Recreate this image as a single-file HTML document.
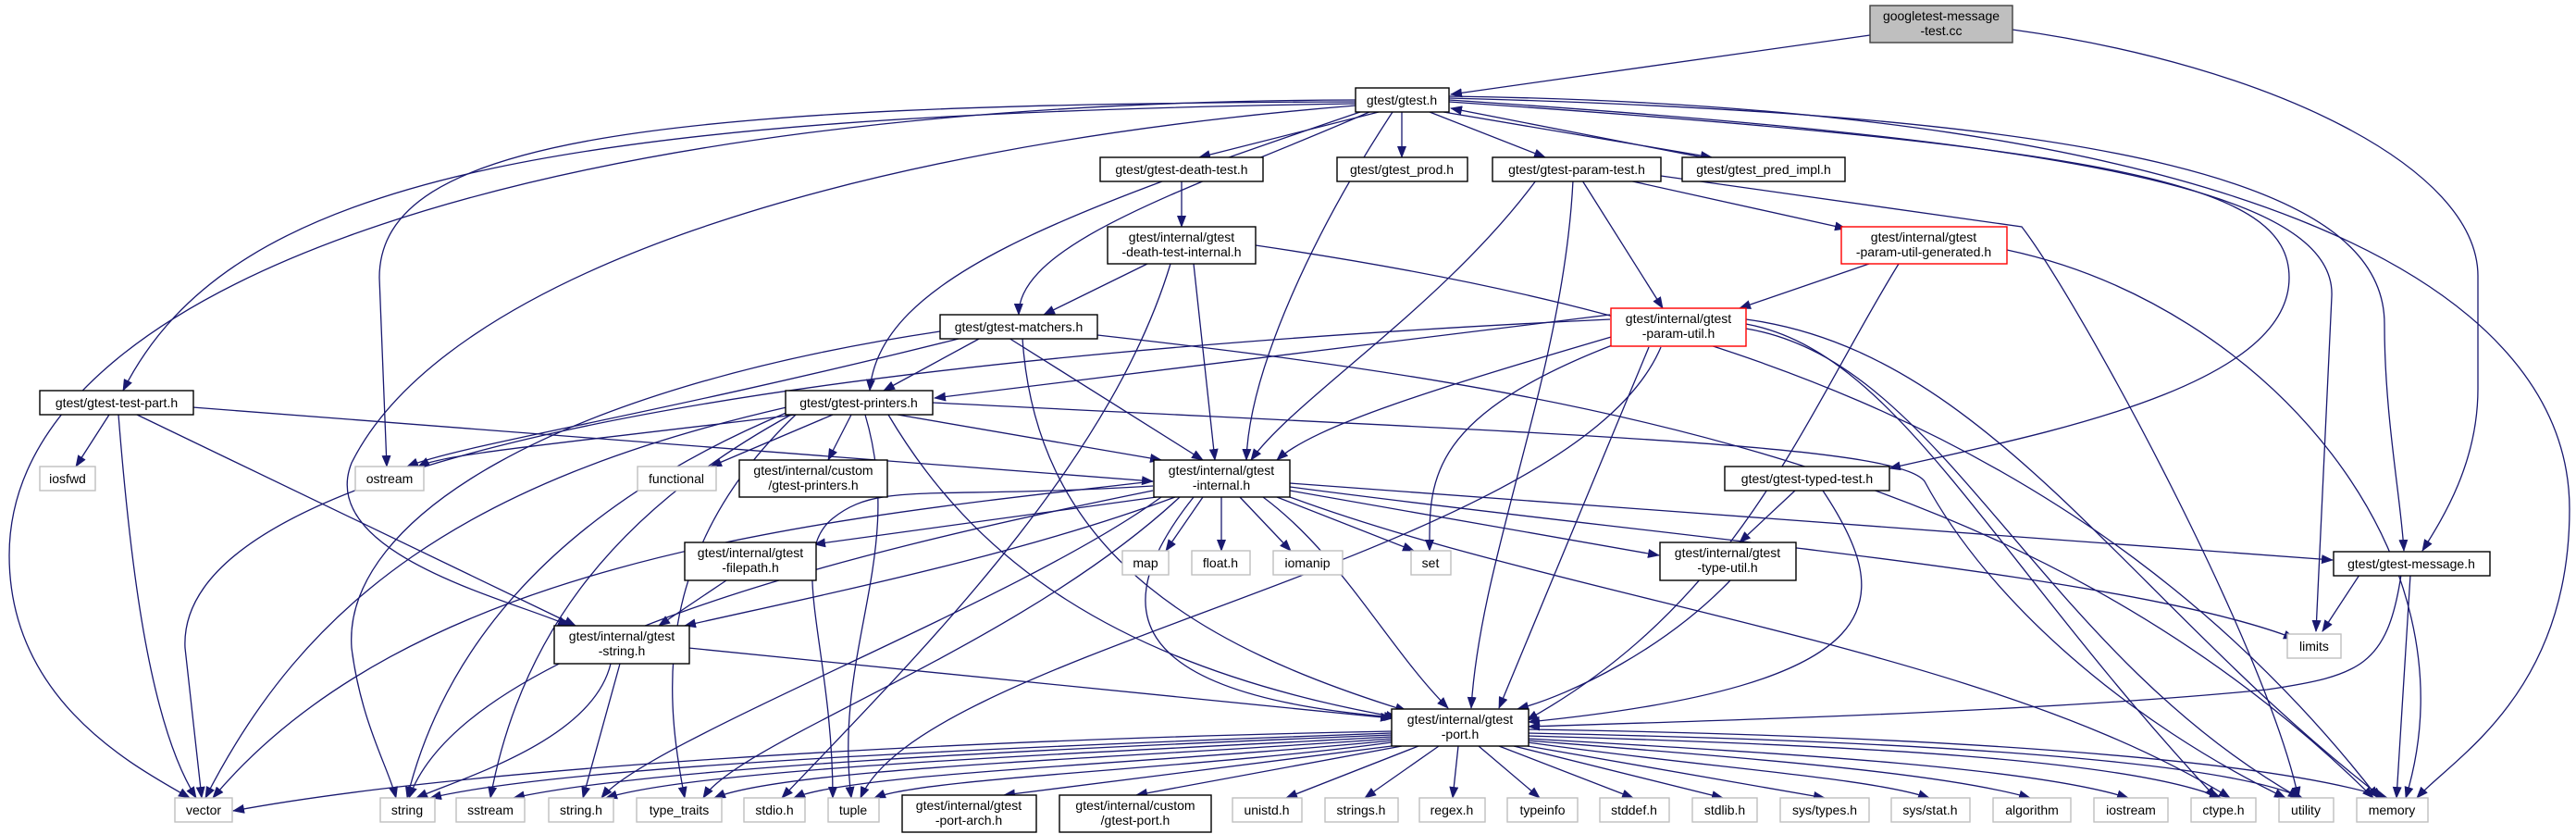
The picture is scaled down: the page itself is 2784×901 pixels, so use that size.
<!DOCTYPE html>
<html><head><meta charset="utf-8"><style>
html,body{margin:0;padding:0;background:#fff;}
svg{display:block}
.e{fill:none;stroke:#191970;stroke-width:1.3;marker-end:url(#a)}
.n{fill:#fff;stroke:#000;stroke-width:1.4}
.g{fill:#fff;stroke:#bfbfbf;stroke-width:1.4}
.r{fill:#fff;stroke:#ff0000;stroke-width:1.4}
text{font-family:"Liberation Sans",sans-serif;font-size:14px;fill:#000;text-anchor:middle}
</style></head><body>
<svg width="2784" height="901" viewBox="0 0 2784 901" xmlns="http://www.w3.org/2000/svg">
<defs><marker id="a" markerUnits="userSpaceOnUse" viewBox="0 0 13 10" refX="12" refY="5" markerWidth="13" markerHeight="10" orient="auto"><path d="M0,0 L13,5 L0,10 z" fill="#191970"/></marker></defs>
<g>
<!-- root -->
<path class="e" d="M2021,38 L1568,102"/>
<path class="e" d="M2175,32 C2450,70 2680,180 2678,300 L2678,420 C2678,500 2640,560 2618,595"/>
<!-- gtest.h -->
<path class="e" d="M1490,121 L1296,170"/>
<path class="e" d="M1515,121 L1515,170"/>
<path class="e" d="M1545,121 L1670,170"/>
<path class="e" d="M1560,121 L1850,170"/>
<path class="e" d="M1840,170 L1568,117"/>
<path class="e" d="M1465,108 C600,110 10,300 10,600 C10,760 150,830 205,862"/>
<path class="e" d="M1465,110 C700,112 410,150 410,300 L418,504"/>
<path class="e" d="M1465,112 C600,125 250,190 133,422"/>
<path class="e" d="M1465,114 C900,160 480,300 380,500 C340,600 560,650 615,676"/>
<path class="e" d="M1480,121 C1300,200 1100,260 1101,340"/>
<path class="e" d="M1470,121 C1150,230 950,300 940,422"/>
<path class="e" d="M1505,121 C1420,250 1350,400 1347,497"/>
<path class="e" d="M1566,110 C2300,160 2474,200 2474,300 C2474,420 2200,470 2042,506"/>
<path class="e" d="M1566,108 C2200,150 2525,200 2520,320 L2503,682"/>
<path class="e" d="M1566,106 C2300,125 2577,200 2577,350 C2577,450 2595,540 2598,595"/>
<path class="e" d="M1566,104 C2400,115 2777,300 2777,550 C2777,750 2650,820 2612,862"/>
<!-- death test -->
<path class="e" d="M1277,195 L1277,245"/>
<path class="e" d="M1240,285 L1128,340"/>
<path class="e" d="M1290,285 L1313,497"/>
<path class="e" d="M1265,285 C1200,500 1000,700 845,862"/>
<path class="e" d="M1357,265 C1800,330 2250,450 2570,862"/>
<!-- param-test -->
<path class="e" d="M1660,195 C1560,330 1400,430 1352,497"/>
<path class="e" d="M1700,195 C1690,400 1600,600 1590,765"/>
<path class="e" d="M1710,195 L1797,333"/>
<path class="e" d="M1760,195 L1995,247"/>
<path class="e" d="M1795,190 L2185,245 C2250,330 2450,700 2484,862"/>
<!-- pug -->
<path class="e" d="M2020,285 L1880,333"/>
<path class="e" d="M2052,285 C1950,450 1880,650 1650,778"/>
<path class="e" d="M2169,270 C2450,330 2680,600 2600,862"/>
<!-- matchers -->
<path class="e" d="M1060,365 L955,422"/>
<path class="e" d="M1090,365 L1300,497"/>
<path class="e" d="M1105,365 C1120,600 1300,700 1520,768"/>
<path class="e" d="M1040,365 C700,450 500,480 440,504"/>
<path class="e" d="M1016,358 C600,420 370,560 380,700 C390,780 420,830 428,862"/>
<path class="e" d="M1186,362 C1700,420 2200,500 2565,862"/>
<!-- param-util -->
<path class="e" d="M1740,340 L1010,430"/>
<path class="e" d="M1755,360 C1550,420 1420,460 1380,497"/>
<path class="e" d="M1782,375 L1620,765"/>
<path class="e" d="M1740,345 C800,390 190,500 200,700 L218,862"/>
<path class="e" d="M1750,370 C1540,450 1545,520 1545,595"/>
<path class="e" d="M1795,375 C1700,600 1000,700 930,862"/>
<path class="e" d="M1887,350 C2050,380 2150,600 2395,862"/>
<path class="e" d="M1887,355 C2100,390 2200,700 2485,862"/>
<path class="e" d="M1887,345 C2150,380 2300,650 2575,862"/>
<!-- test-part -->
<path class="e" d="M118,448 L82,504"/>
<path class="e" d="M128,448 C140,600 160,780 212,862"/>
<path class="e" d="M148,448 L622,676"/>
<path class="e" d="M208,440 L1246,520"/>
<!-- printers -->
<path class="e" d="M860,448 C600,480 480,490 452,504"/>
<path class="e" d="M900,448 L768,504"/>
<path class="e" d="M920,448 L895,497"/>
<path class="e" d="M970,448 L1255,497"/>
<path class="e" d="M960,448 C1050,600 1200,720 1510,775"/>
<path class="e" d="M850,440 C500,520 330,650 222,862"/>
<path class="e" d="M852,445 C600,550 480,700 440,862"/>
<path class="e" d="M855,448 C650,560 560,700 530,862"/>
<path class="e" d="M860,448 C700,600 720,760 740,862"/>
<path class="e" d="M935,448 C980,600 900,700 920,862"/>
<path class="e" d="M1008,435 C1700,470 2050,480 2080,520 C2150,650 2300,780 2470,862"/>
<!-- internal.h -->
<path class="e" d="M1300,537 L1260,595"/>
<path class="e" d="M1320,537 L1320,595"/>
<path class="e" d="M1340,537 L1395,595"/>
<path class="e" d="M1380,537 L1528,595"/>
<path class="e" d="M1394,530 L1793,600"/>
<path class="e" d="M1394,522 L2521,605"/>
<path class="e" d="M1394,526 C1800,580 2300,620 2480,690"/>
<path class="e" d="M1270,537 C1100,600 900,640 740,676"/>
<path class="e" d="M1250,537 L880,588"/>
<path class="e" d="M1365,537 C1450,600 1500,700 1565,765"/>
<path class="e" d="M1290,537 C1200,650 1200,750 1508,775"/>
<path class="e" d="M1246,520 C900,560 450,600 230,862"/>
<path class="e" d="M1246,525 C1000,540 950,520 900,560 C850,600 900,700 900,862" />
<path class="e" d="M1246,530 C900,600 500,700 442,862"/>
<path class="e" d="M1255,537 C1100,650 700,800 650,862"/>
<path class="e" d="M1275,537 C1100,700 800,800 760,862"/>
<path class="e" d="M1394,537 C1700,650 2150,700 2410,862"/>
<!-- typed-test -->
<path class="e" d="M1940,530 L1880,586"/>
<path class="e" d="M1970,530 C2050,650 2050,740 1652,780"/>
<path class="e" d="M1870,627 C1800,700 1700,750 1640,766"/>
<path class="e" d="M785,627 L712,676"/>
<path class="e" d="M2550,621 L2510,682"/>
<path class="e" d="M2605,621 L2590,862"/>
<path class="e" d="M2595,621 C2580,720 2550,730 2450,745 C2200,770 1800,780 1652,785"/>
<path class="e" d="M744,700 L1504,776"/>
<path class="e" d="M660,717 C640,800 500,840 450,862"/>
<path class="e" d="M670,717 L630,862"/>
<!-- port.h -> bottom -->
<path class="e" d="M1504,790 C1000,800 500,830 252,876"/>
<path class="e" d="M1504,792 C1000,810 600,830 465,862"/>
<path class="e" d="M1504,794 C1100,810 700,830 555,862"/>
<path class="e" d="M1504,796 C1150,815 760,830 655,862"/>
<path class="e" d="M1504,798 C1200,820 850,830 772,862"/>
<path class="e" d="M1504,800 C1250,825 920,835 858,862"/>
<path class="e" d="M1504,802 C1300,830 1000,840 945,862"/>
<path class="e" d="M1504,806 L1085,859"/>
<path class="e" d="M1515,806 L1228,859"/>
<path class="e" d="M1533,806 L1390,862"/>
<path class="e" d="M1555,806 L1475,862"/>
<path class="e" d="M1576,806 L1570,862"/>
<path class="e" d="M1598,806 L1664,862"/>
<path class="e" d="M1620,806 L1765,862"/>
<path class="e" d="M1636,806 L1862,862"/>
<path class="e" d="M1651,806 L1972,862"/>
<path class="e" d="M1651,802 C1850,830 2020,840 2085,862"/>
<path class="e" d="M1651,800 C1900,820 2100,835 2194,862"/>
<path class="e" d="M1651,798 C1950,815 2200,830 2300,862"/>
<path class="e" d="M1651,795 C2000,805 2300,820 2400,862"/>
<path class="e" d="M1651,792 C2050,800 2400,820 2488,862"/>
<path class="e" d="M1651,788 C2100,795 2450,820 2580,862"/>
</g>
<!-- nodes -->
<rect x="2021" y="6" width="154" height="40" fill="#bfbfbf" stroke="#404040" stroke-width="1.4"/>
<text x="2098" y="22">googletest-message</text><text x="2098" y="38">-test.cc</text>
<rect class="n" x="1465" y="95" width="101" height="26"/><text x="1515" y="113">gtest/gtest.h</text>
<rect class="n" x="1189" y="170" width="176" height="26"/><text x="1277" y="188">gtest/gtest-death-test.h</text>
<rect class="n" x="1445" y="170" width="141" height="26"/><text x="1515" y="188">gtest/gtest_prod.h</text>
<rect class="n" x="1613" y="170" width="182" height="26"/><text x="1704" y="188">gtest/gtest-param-test.h</text>
<rect class="n" x="1818" y="170" width="176" height="26"/><text x="1906" y="188">gtest/gtest_pred_impl.h</text>
<rect class="n" x="1197" y="245" width="160" height="40"/><text x="1277" y="261">gtest/internal/gtest</text><text x="1277" y="277">-death-test-internal.h</text>
<rect class="r" x="1990" y="245" width="179" height="40"/><text x="2079" y="261">gtest/internal/gtest</text><text x="2079" y="277">-param-util-generated.h</text>
<rect class="n" x="1016" y="340" width="170" height="26"/><text x="1101" y="358">gtest/gtest-matchers.h</text>
<rect class="r" x="1741" y="333" width="146" height="41"/><text x="1814" y="349">gtest/internal/gtest</text><text x="1814" y="365">-param-util.h</text>
<rect class="n" x="43" y="422" width="166" height="26"/><text x="126" y="440">gtest/gtest-test-part.h</text>
<rect class="n" x="849" y="422" width="159" height="26"/><text x="928" y="440">gtest/gtest-printers.h</text>
<rect class="g" x="43" y="504" width="60" height="26"/><text x="73" y="522">iosfwd</text>
<rect class="g" x="384" y="504" width="74" height="26"/><text x="421" y="522">ostream</text>
<rect class="g" x="689" y="504" width="85" height="26"/><text x="731" y="522">functional</text>
<rect class="n" x="799" y="497" width="160" height="40"/><text x="879" y="513">gtest/internal/custom</text><text x="879" y="529">/gtest-printers.h</text>
<rect class="n" x="1247" y="497" width="147" height="40"/><text x="1320" y="513">gtest/internal/gtest</text><text x="1320" y="529">-internal.h</text>
<rect class="n" x="1864" y="504" width="178" height="26"/><text x="1953" y="522">gtest/gtest-typed-test.h</text>
<rect class="n" x="740" y="586" width="142" height="41"/><text x="811" y="602">gtest/internal/gtest</text><text x="811" y="618">-filepath.h</text>
<rect class="g" x="1213" y="595" width="50" height="26"/><text x="1238" y="613">map</text>
<rect class="g" x="1288" y="595" width="63" height="26"/><text x="1319" y="613">float.h</text>
<rect class="g" x="1376" y="595" width="75" height="26"/><text x="1413" y="613">iomanip</text>
<rect class="g" x="1525" y="595" width="43" height="26"/><text x="1546" y="613">set</text>
<rect class="n" x="1794" y="586" width="147" height="41"/><text x="1867" y="602">gtest/internal/gtest</text><text x="1867" y="618">-type-util.h</text>
<rect class="n" x="2522" y="596" width="169" height="26"/><text x="2606" y="614">gtest/gtest-message.h</text>
<rect class="g" x="2472" y="685" width="58" height="26"/><text x="2501" y="703">limits</text>
<rect class="n" x="599" y="676" width="146" height="41"/><text x="672" y="692">gtest/internal/gtest</text><text x="672" y="708">-string.h</text>
<rect class="n" x="1504" y="766" width="148" height="40"/><text x="1578" y="782">gtest/internal/gtest</text><text x="1578" y="798">-port.h</text>
<rect class="g" x="189" y="862" width="62" height="26"/><text x="220" y="880">vector</text>
<rect class="g" x="411" y="862" width="59" height="26"/><text x="440" y="880">string</text>
<rect class="g" x="493" y="862" width="74" height="26"/><text x="530" y="880">sstream</text>
<rect class="g" x="593" y="862" width="70" height="26"/><text x="628" y="880">string.h</text>
<rect class="g" x="688" y="862" width="92" height="26"/><text x="734" y="880">type_traits</text>
<rect class="g" x="804" y="862" width="66" height="26"/><text x="837" y="880">stdio.h</text>
<rect class="g" x="895" y="862" width="55" height="26"/><text x="922" y="880">tuple</text>
<rect class="n" x="975" y="859" width="145" height="40"/><text x="1047" y="875">gtest/internal/gtest</text><text x="1047" y="891">-port-arch.h</text>
<rect class="n" x="1145" y="859" width="164" height="40"/><text x="1227" y="875">gtest/internal/custom</text><text x="1227" y="891">/gtest-port.h</text>
<rect class="g" x="1332" y="862" width="75" height="26"/><text x="1369" y="880">unistd.h</text>
<rect class="g" x="1432" y="862" width="79" height="26"/><text x="1471" y="880">strings.h</text>
<rect class="g" x="1534" y="862" width="71" height="26"/><text x="1569" y="880">regex.h</text>
<rect class="g" x="1629" y="862" width="76" height="26"/><text x="1667" y="880">typeinfo</text>
<rect class="g" x="1729" y="862" width="75" height="26"/><text x="1766" y="880">stddef.h</text>
<rect class="g" x="1829" y="862" width="70" height="26"/><text x="1864" y="880">stdlib.h</text>
<rect class="g" x="1924" y="862" width="96" height="26"/><text x="1972" y="880">sys/types.h</text>
<rect class="g" x="2044" y="862" width="85" height="26"/><text x="2086" y="880">sys/stat.h</text>
<rect class="g" x="2154" y="862" width="84" height="26"/><text x="2196" y="880">algorithm</text>
<rect class="g" x="2263" y="862" width="80" height="26"/><text x="2303" y="880">iostream</text>
<rect class="g" x="2368" y="862" width="70" height="26"/><text x="2403" y="880">ctype.h</text>
<rect class="g" x="2463" y="862" width="59" height="26"/><text x="2492" y="880">utility</text>
<rect class="g" x="2547" y="862" width="77" height="26"/><text x="2585" y="880">memory</text>
</svg>
</body></html>
